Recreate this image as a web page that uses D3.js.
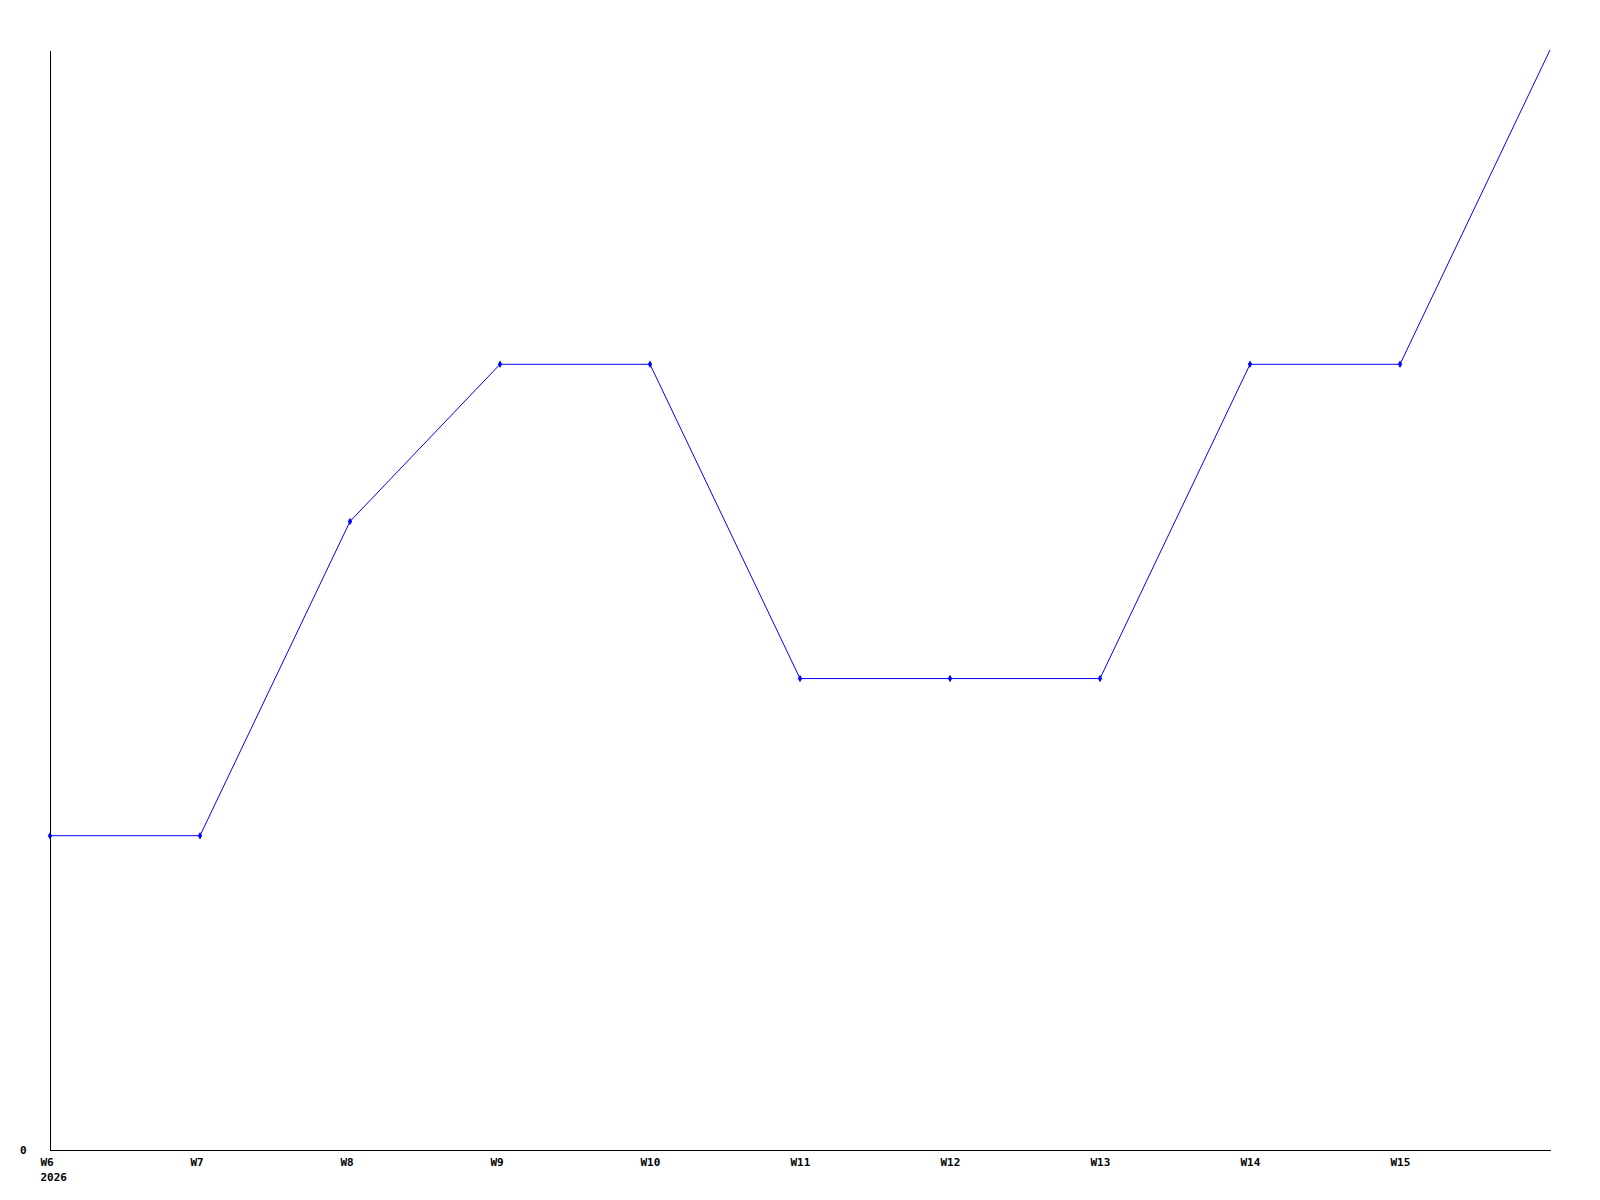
<!DOCTYPE html>
<html>
<head>
<meta charset="utf-8">
<script src="https://cdn.jsdelivr.net/npm/d3@7"></script>
<style>
  html, body { margin: 0; padding: 0; background: #fff; }
  svg text { font-family: "DejaVu Sans Mono", monospace; font-size: 11px; font-weight: bold; fill: #000; }
</style>
</head>
<body>
<svg width="1600" height="1200"></svg>
<script>
// weeks along the x axis; the last one has no label
var weeks = ["W6", "W7", "W8", "W9", "W10", "W11", "W12", "W13", "W14", "W15", "W16"];
var weekLabels = ["W6", "W7", "W8", "W9", "W10", "W11", "W12", "W13", "W14", "W15", ""];
var values = [2, 2, 4, 5, 5, 3, 3, 3, 5, 5, 7];
var yearLabel = "2026";
var yTicks = [0];

var margin = { top: 50, right: 50, bottom: 50, left: 50 };
var width = 1600 - margin.left - margin.right;
var height = 1200 - margin.top - margin.bottom;

var svg = d3.select("svg");
var g = svg.append("g").attr("transform", "translate(" + margin.left + "," + margin.top + ")");

var x = d3.scalePoint().domain(weeks).range([0, width]);
var y = d3.scaleLinear().domain([0, d3.max(values)]).range([height, 0]);

// axes
var xAxis = d3.axisBottom(x).tickSize(0).tickFormat(function (d, i) { return weekLabels[i]; });
var gx = g.append("g").attr("transform", "translate(0," + height + ")").call(xAxis);
gx.select(".domain").attr("stroke", "#000").attr("shape-rendering", "crispEdges");
gx.selectAll("text").attr("dy", null).attr("y", 16).attr("x", -10).attr("text-anchor", "start");
gx.selectAll(".tick").filter(function (d, i) { return i === 0; })
    .append("text").attr("x", -10).attr("y", 31).attr("text-anchor", "start").text(yearLabel);

var yAxis = d3.axisLeft(y).tickValues(yTicks).tickSize(0).tickFormat(d3.format("d"));
var gy = g.append("g").call(yAxis);
gy.select(".domain").attr("stroke", "#000").attr("shape-rendering", "crispEdges");
gy.selectAll("text").attr("x", -30).attr("dy", "0.3em").attr("text-anchor", "start");
svg.selectAll("g").attr("font-family", null).attr("font-size", null);

// line
var line = d3.line()
    .x(function (d, i) { return x(weeks[i]); })
    .y(function (d) { return y(d); });
g.append("path")
    .datum(values)
    .attr("fill", "none")
    .attr("stroke", "#0000ff")
    .attr("stroke-width", 1)
    .attr("d", line);

// point markers
g.selectAll(".pt")
    .data(values.slice(0, values.length - 1))
    .enter().append("path")
    .attr("class", "pt")
    .attr("d", d3.symbol().type(d3.symbolDiamond).size(16))
    .attr("fill", "#0000ff")
    .attr("transform", function (d, i) { return "translate(" + x(weeks[i]) + "," + y(d) + ")"; });
</script>
</body>
</html>
